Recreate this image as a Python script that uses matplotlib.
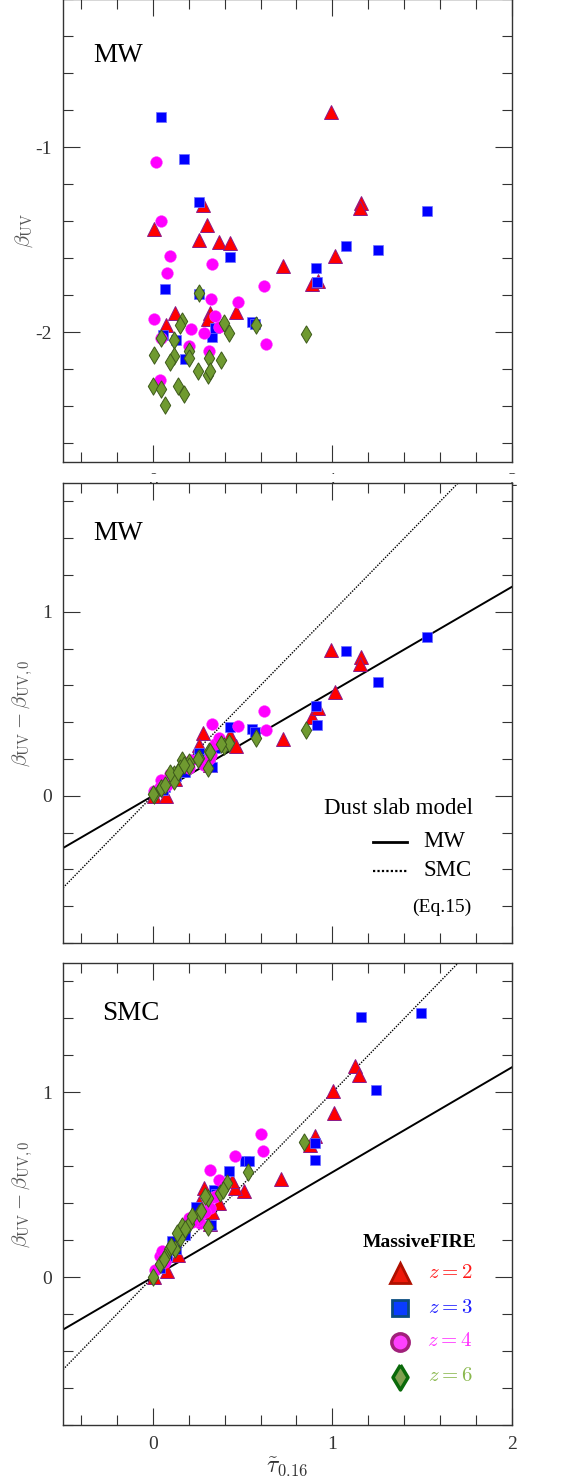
import numpy as np
import matplotlib
matplotlib.use("Agg")
import matplotlib.pyplot as plt
from matplotlib.patches import Rectangle
from matplotlib.ticker import MultipleLocator

plt.rcParams['font.family'] = ['Liberation Serif', 'DejaVu Serif']
plt.rcParams['mathtext.fontset'] = 'cm'

# ---- data ----
# top + middle panels share tau (MW); beta_UV and beta_UV - beta_UV,0
tau_mw_z2 = [0.99, 1.16, 1.155, 0.007, 0.28, 0.30, 0.257, 0.37, 0.43, 1.017, 0.725, 0.888, 0.918,
             0.125, 0.072, 0.32, 0.31, 0.465]
beta_z2 = [-0.81, -1.30, -1.33, -1.44, -1.31, -1.42, -1.50, -1.51, -1.52, -1.59, -1.64, -1.74, -1.72,
           -1.895, -1.96, -1.895, -1.93, -1.89]
dbeta_mw_z2 = [0.79, 0.756, 0.714, 0.0, 0.34, 0.20, 0.277, 0.29, 0.33, 0.566, 0.307, 0.427, 0.479,
               0.09, 0.0, 0.17, 0.22, 0.268]

tau_mw_z3 = [0.046, 0.171, 0.26, 1.524, 1.078, 1.255, 0.431, 0.911, 0.915, 0.069, 0.257, 0.552, 0.570,
             0.327, 0.348, 0.059, 0.128, 0.182]
beta_z3 = [-0.837, -1.062, -1.296, -1.347, -1.534, -1.555, -1.595, -1.655, -1.73, -1.768, -1.795, -1.946,
           -1.953, -2.025, -1.976, -2.013, -2.04, -2.145]
dbeta_mw_z3 = [0.03, 0.13, 0.23, 0.864, 0.787, 0.618, 0.372, 0.488, 0.383, 0.05, 0.2, 0.362, 0.345,
               0.159, 0.26, 0.03, 0.105, 0.132]

tau_mw_z4 = [0.019, 0.048, 0.097, 0.078, 0.329, 0.617, 0.007, 0.325, 0.472, 0.346, 0.212, 0.283, 0.630,
             0.204, 0.312, 0.041, 0.045, 0.37]
beta_z4 = [-1.078, -1.40, -1.586, -1.677, -1.632, -1.75, -1.927, -1.822, -1.837, -1.913, -1.982, -2.004,
           -2.064, -2.076, -2.103, -2.258, -2.03, -1.97]
dbeta_mw_z4 = [0.02, 0.087, 0.12, 0.06, 0.389, 0.461, 0.024, 0.22, 0.382, 0.28, 0.195, 0.168, 0.358,
               0.15, 0.2, 0.05, 0.04, 0.313]

tau_mw_z6 = [0.26, 0.162, 0.152, 0.394, 0.424, 0.853, 0.043, 0.119, 0.004, 0.203, 0.199, 0.119, 0.093,
             0.314, 0.377, 0.249, 0.305, 0.32, 0.0, 0.045, 0.138, 0.175, 0.067, 0.576]
beta_z6 = [-1.786, -1.94, -1.958, -1.95, -2.004, -2.009, -2.03, -2.04, -2.12, -2.10, -2.14, -2.13, -2.16,
           -2.14, -2.149, -2.207, -2.23, -2.21, -2.29, -2.308, -2.29, -2.334, -2.394, -1.96]
dbeta_mw_z6 = [0.204, 0.195, 0.15, 0.268, 0.286, 0.358, 0.042, 0.12, 0.005, 0.186, 0.16, 0.078, 0.123,
               0.241, 0.28, 0.2, 0.15, 0.24, 0.01, 0.045, 0.132, 0.17, 0.06, 0.313]

# bottom panel (SMC)
tau_smc_z2 = [1.125, 1.147, 1.002, 1.007, 0.905, 0.877, 0.714, 0.506, 0.455, 0.283, 0.255, 0.32, 0.078,
              0.005, 0.44, 0.14, 0.33, 0.37]
dbeta_smc_z2 = [1.141, 1.096, 1.005, 0.888, 0.762, 0.717, 0.532, 0.467, 0.482, 0.482, 0.40, 0.29, 0.031,
                0.0, 0.52, 0.12, 0.35, 0.40]
tau_smc_z3 = [1.496, 1.162, 1.243, 0.905, 0.905, 0.515, 0.533, 0.424, 0.338, 0.242, 0.323, 0.18, 0.106,
              0.078, 0.04, 0.26, 0.35, 0.13]
dbeta_smc_z3 = [1.43, 1.408, 1.011, 0.726, 0.635, 0.63, 0.626, 0.572, 0.473, 0.379, 0.283, 0.229, 0.193,
                0.112, 0.05, 0.33, 0.45, 0.15]
tau_smc_z4 = [0.604, 0.612, 0.455, 0.316, 0.37, 0.338, 0.316, 0.264, 0.204, 0.041, 0.013, 0.07, 0.29,
              0.35, 0.25, 0.4, 0.05, 0.22]
dbeta_smc_z4 = [0.776, 0.684, 0.657, 0.578, 0.527, 0.433, 0.374, 0.292, 0.32, 0.112, 0.04, 0.08, 0.35,
                0.44, 0.31, 0.5, 0.14, 0.3]
tau_smc_z6 = [0.84, 0.528, 0.413, 0.375, 0.31, 0.292, 0.255, 0.305, 0.165, 0.2, 0.152, 0.133, 0.125,
              0.088, 0.07, 0.04, 0.0, 0.39, 0.22, 0.1, 0.27, 0.18, 0.06]
dbeta_smc_z6 = [0.729, 0.569, 0.509, 0.455, 0.428, 0.437, 0.347, 0.274, 0.275, 0.285, 0.21, 0.24, 0.15,
                0.15, 0.11, 0.07, 0.0, 0.47, 0.33, 0.17, 0.36, 0.26, 0.1]

# dust slab model slopes (Eq.15)
slope_mw = 0.568
slope_smc = 1.0

redshift_labels = ['$z = 2$', '$z = 3$', '$z = 4$', '$z = 6$']

diamond = [(0, 1), (0.6, 0), (0, -1), (-0.6, 0), (0, 1)]
styles = [
    dict(marker='^', ms=10, mfc='#ff0000', mec='#8a1a8a', mew=0.7),
    dict(marker='s', ms=7.5, mfc='#0000ff', mec='#7070ff', mew=0.5),
    dict(marker='o', ms=8.5, mfc='#ff00ff', mec='#ff40ff', mew=0.3),
    dict(marker=diamond, ms=12.5, mfc='#6f9a30', mec='#3e5a1c', mew=0.7),
]
leg_styles = [
    dict(marker='^', ms=14, mfc='#ee1a0a', mec='#b01000', mew=2),
    dict(marker='s', ms=11.5, mfc='#0a3cff', mec='#0a4c80', mew=2),
    dict(marker='o', ms=12.5, mfc='#ff40ff', mec='#a0207a', mew=2.5),
    dict(marker=diamond, ms=18, mfc='#80a050', mec='#0a6a0a', mew=2.5),
]
leg_text_colors = ['#ff1a1a', '#1a1aff', '#ff30ff', '#8ab84e']

W, H = 579, 1481
fig = plt.figure(figsize=(W / 100, H / 100), dpi=100)


def frame(top, bottom):
    return [63 / W, 1 - bottom / H, 449 / W, (bottom - top) / H]


ax1 = fig.add_axes(frame(-1, 462))
ax2 = fig.add_axes(frame(483, 943))
ax3 = fig.add_axes(frame(963, 1425))

for ax in (ax1, ax2, ax3):
    ax.set_xlim(-0.5, 2)
    ax.xaxis.set_major_locator(MultipleLocator(1))
    ax.xaxis.set_minor_locator(MultipleLocator(0.2))
    ax.yaxis.set_major_locator(MultipleLocator(1))
    ax.yaxis.set_minor_locator(MultipleLocator(0.2))
    ax.tick_params(which='both', direction='in', top=True, right=True, colors='#333333',
                   labelsize=14, width=0.8)
    ax.tick_params(which='major', length=12, pad=8)
    ax.tick_params(which='minor', length=7)
    for s in ax.spines.values():
        s.set_linewidth(1.0)
        s.set_color('#333333')
    ax.yaxis.set_label_coords(-0.062, 0.5)

# top panel
ax1.set_ylim(-2.7, -0.2)
ax1.yaxis.set_major_formatter(matplotlib.ticker.FuncFormatter(lambda v, p: '%d' % v))
ax1.set_ylabel(r'$\beta_{\rm UV}$', fontsize=15, color='#555555')
for tx, ty, st in zip([tau_mw_z2, tau_mw_z3, tau_mw_z4, tau_mw_z6],
                      [beta_z2, beta_z3, beta_z4, beta_z6], styles):
    ax1.plot(tx, ty, ls='none', **st)
ax1.text(0.067, 0.877, 'MW', transform=ax1.transAxes, fontsize=19.5, va='center')

xx = np.array([-0.5, 2.0])
for ax, series in ((ax2, [(tau_mw_z2, dbeta_mw_z2), (tau_mw_z3, dbeta_mw_z3),
                          (tau_mw_z4, dbeta_mw_z4), (tau_mw_z6, dbeta_mw_z6)]),
                   (ax3, [(tau_smc_z2, dbeta_smc_z2), (tau_smc_z3, dbeta_smc_z3),
                          (tau_smc_z4, dbeta_smc_z4), (tau_smc_z6, dbeta_smc_z6)])):
    ax.set_ylim(-0.8, 1.7)
    ax.plot(xx, slope_mw * xx, color='black', lw=1.4, zorder=1)
    ax.plot(xx, slope_smc * xx, color='black', lw=1.0, ls=(0, (1, 1)), zorder=1)
    for (tx, ty), st in zip(series, styles):
        ax.plot(tx, ty, ls='none', zorder=2, **st)
    ax.set_ylabel(r'$\beta_{\rm UV} - \beta_{\rm UV,0}$', fontsize=15, color='#555555')

ax2.tick_params(labelbottom=False)
ax2.text(0.067, 0.891, 'MW', transform=ax2.transAxes, fontsize=19.5, va='center')
ax3.text(0.087, 0.891, 'SMC', transform=ax3.transAxes, fontsize=19.5, va='center')

# model legend in middle panel
ax2.text(0.748, 0.293, 'Dust slab model', transform=ax2.transAxes, fontsize=16.5,
         ha='center', va='center')
ax2.plot([0.690, 0.766], [0.220, 0.220], transform=ax2.transAxes, color='black', lw=2)
ax2.plot([0.690, 0.766], [0.157, 0.157], transform=ax2.transAxes, color='black', lw=1.6,
         ls=(0, (1, 1)))
ax2.text(0.849, 0.220, 'MW', transform=ax2.transAxes, fontsize=16.5, ha='center', va='center')
ax2.text(0.856, 0.157, 'SMC', transform=ax2.transAxes, fontsize=16.5, ha='center', va='center')
ax2.text(0.844, 0.078, '(Eq.15)', transform=ax2.transAxes, fontsize=14, ha='center', va='center')

# MassiveFIRE legend in bottom panel
ax3.text(0.794, 0.396, 'MassiveFIRE', transform=ax3.transAxes, fontsize=14, fontweight='bold',
         ha='center', va='center')
for yy, st, lab, c in zip([0.329, 0.253, 0.180, 0.104], leg_styles, redshift_labels, leg_text_colors):
    ax3.plot([0.751], [yy], transform=ax3.transAxes, ls='none', **st)
    ax3.text(0.862, yy, lab, transform=ax3.transAxes, fontsize=15, color=c, ha='center', va='center')

ax3.set_xlabel(r'$\tilde{\tau}_{0.16}$', fontsize=17, color='#333333')
ax3.xaxis.set_label_coords(0.5, -0.066)

# the top panel's tick labels are mostly hidden under the middle panel
fig.add_artist(Rectangle((0, 1 - 482 / H), 1, 8 / H, transform=fig.transFigure,
                         facecolor='white', edgecolor='none', zorder=5))

fig.savefig('out.png', dpi=100)
